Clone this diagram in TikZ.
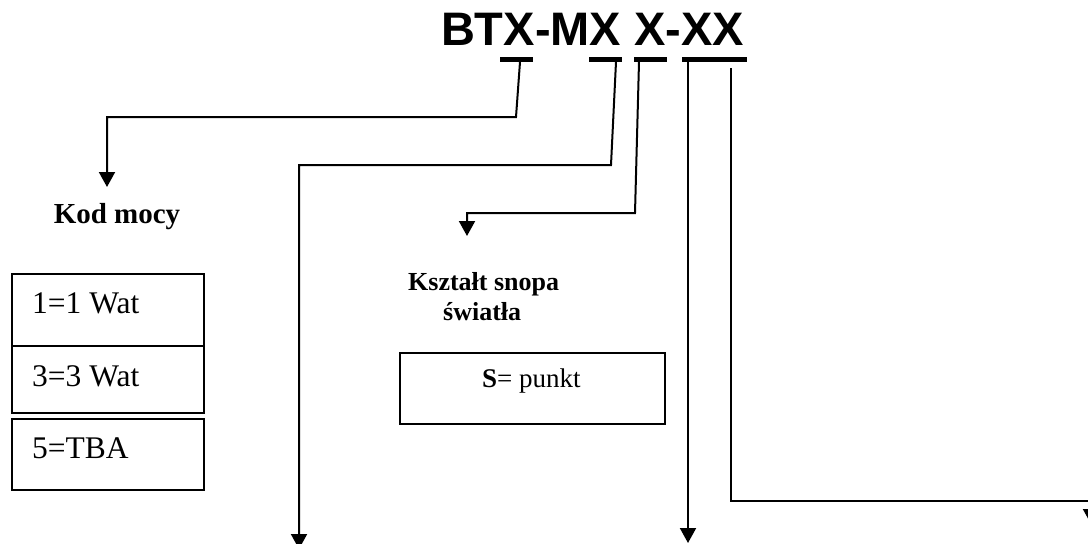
\documentclass[tikz,border=0pt]{standalone}
\usepackage{fontspec}
\setmainfont{Liberation Serif}
\newfontfamily\arialfont{Liberation Sans}
\usetikzlibrary{arrows.meta}
\begin{document}
\begin{tikzpicture}[x=1pt,y=-1pt,
  conn/.style={line width=2pt,-{Triangle[width=16pt,length=15pt]}},
  ubar/.style={line width=5pt},
  lbox/.style={draw,line width=2pt,inner sep=0pt,anchor=north west},
  titlestyle/.style={font=\arialfont\fontsize{47}{52}\selectfont\bfseries,inner sep=0pt,anchor=base},
  headbig/.style={font=\fontsize{29}{33}\selectfont\bfseries,inner sep=0pt,anchor=base},
  headsmall/.style={font=\fontsize{26}{30}\selectfont\bfseries,inner sep=0pt,anchor=base west},
  valbig/.style={font=\fontsize{31.5}{35}\selectfont,inner sep=0pt,anchor=base west},
  valsmall/.style={font=\fontsize{27}{31}\selectfont,inner sep=0pt,anchor=base west}
]
\useasboundingbox (0,0) rectangle (1088,544);
\clip (0,0) rectangle (1088,544);

% title
\node[titlestyle] (title) at (592.5,45) {BTX-MX X-XX};

% underlines
\coordinate (u1a) at (500,59.5); \coordinate (u1b) at (533,59.5);
\coordinate (u2a) at (589,59.5); \coordinate (u2b) at (622,59.5);
\coordinate (u3a) at (634,59.5); \coordinate (u3b) at (667,59.5);
\coordinate (u4a) at (682,59.5); \coordinate (u4b) at (747,59.5);
\draw[ubar] (u1a) -- (u1b);
\draw[ubar] (u2a) -- (u2b);
\draw[ubar] (u3a) -- (u3b);
\draw[ubar] (u4a) -- (u4b);

% labels
\node[headbig] (kod) at (117,223) {Kod mocy};
\node[headsmall] (ksz) at (408,290) {Kształt snopa};
\node[headsmall] (swi) at (443,320) {światła};

% boxes
\node[lbox,minimum width=192pt,minimum height=72pt] (b1) at (11,273) {};
\node[lbox,minimum width=192pt,minimum height=67pt] (b2) at (11,345) {};
\node[lbox,minimum width=192pt,minimum height=71pt] (b3) at (11,418) {};
\node[valbig] (v1) at (32,313) {1=1 Wat};
\node[valbig] (v2) at (32,386) {3=3 Wat};
\node[valbig] (v3) at (32,458) {5=TBA};

\node[lbox,minimum width=265pt,minimum height=71pt] (sb) at (399,352) {};
\node[valsmall] (sv) at (482,387) {\textbf{S}= punkt};

% connectors
\coordinate (s1) at (520,62); \coordinate (k1) at (516,117);
\coordinate (k1b) at (107,117); \coordinate (t1) at (107,187);
\draw[conn] (s1) -- (k1) -- (k1b) -- (t1);

\coordinate (s2) at (616,62); \coordinate (k2) at (611,165);
\coordinate (k2b) at (299,165); \coordinate (t2) at (299,549);
\draw[conn] (s2) -- (k2) -- (k2b) -- (t2);

\coordinate (s3) at (639,62); \coordinate (k3) at (635,213);
\coordinate (k3b) at (467,213); \coordinate (t3) at (467,236);
\draw[conn] (s3) -- (k3) -- (k3b) -- (t3);

\coordinate (s4) at (688,62); \coordinate (t4) at (688,543);
\draw[conn] (s4) -- (t4);

\coordinate (s5) at (731,68); \coordinate (k5) at (731,501);
\coordinate (k5b) at (1091,501); \coordinate (t5) at (1091,524);
\draw[conn] (s5) -- (k5) -- (k5b) -- (t5);
\end{tikzpicture}
\end{document}
